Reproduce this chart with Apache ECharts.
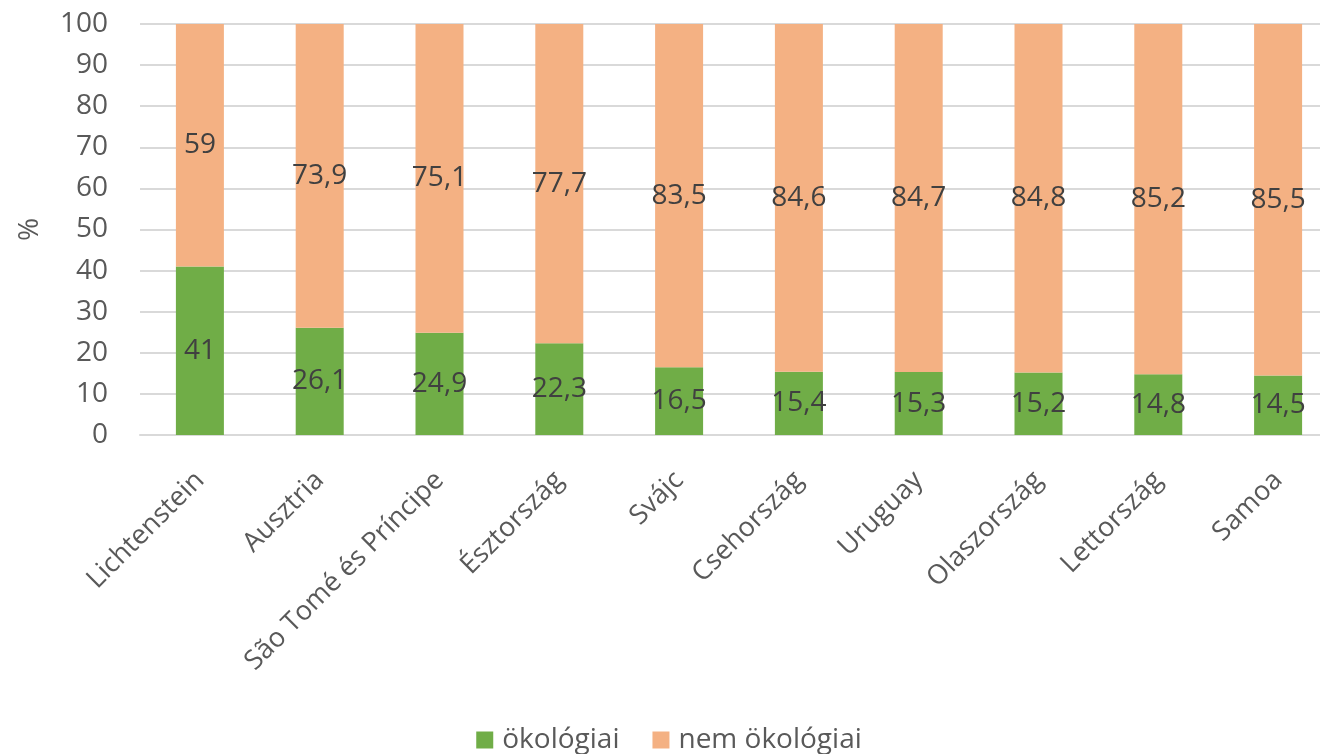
<!DOCTYPE html>
<html>
<head>
<meta charset="utf-8">
<script src="https://cdn.jsdelivr.net/npm/echarts@6/dist/echarts.min.js"></script>
<style>html,body{margin:0;padding:0;background:#fff;overflow:hidden;width:1320px;height:754px;}#c{width:1338px;height:754px;}</style>
</head>
<body>
<div id="c"></div>
<script>
var categories = ['Lichtenstein','Ausztria','São Tomé és Príncipe','Észtország','Svájc','Csehország','Uruguay','Olaszország','Lettország','Samoa'];
var ecological = [41, 26.1, 24.9, 22.3, 16.5, 15.4, 15.3, 15.2, 14.8, 14.5];
var nonEcological = [59, 73.9, 75.1, 77.7, 83.5, 84.6, 84.7, 84.8, 85.2, 85.5];
var seriesNames = ['ökológiai', 'nem ökológiai'];

var FONT = '"Open Sans", "Noto Sans", sans-serif';
function fmt(p){ return String(p.value).replace('.', ','); }

var chart = echarts.init(document.getElementById('c'), null, {renderer:'canvas'});
chart.setOption({
  animation: false,
  textStyle: {fontFamily: FONT},
  grid: {left: 140, top: 24, right: 0, bottom: 319, containLabel: false},
  legend: {
    bottom: -5, left: 'center',
    itemWidth: 17, itemHeight: 17, itemGap: 33,
    icon: 'rect',
    textStyle: {fontSize: 28, color: '#595959', fontFamily: FONT, padding: [0, 0, 0, 4]},
    data: seriesNames
  },
  xAxis: {
    type: 'category',
    data: categories,
    axisLine: {show: true, lineStyle: {color: '#d9d9d9', width: 2}},
    axisTick: {show: false},
    axisLabel: {rotate: 45, interval: 0, margin: 41, fontSize: 27, color: '#595959', fontFamily: FONT}
  },
  yAxis: {
    type: 'value',
    min: 0, max: 100, interval: 10,
    name: '%', nameLocation: 'middle', nameGap: 96, nameRotate: 90,
    nameTextStyle: {fontSize: 28, color: '#595959', fontFamily: FONT},
    axisLine: {show: false},
    axisTick: {show: false},
    axisLabel: {margin: 32, fontSize: 28, color: '#595959', fontFamily: FONT},
    splitLine: {lineStyle: {color: '#d9d9d9', width: 2}}
  },
  series: [
    {
      name: seriesNames[0], type: 'bar', stack: 'a', data: ecological,
      barWidth: 48,
      itemStyle: {color: '#70AD47'},
      label: {show: true, position: 'inside', formatter: fmt, fontSize: 28, color: '#404040', fontFamily: FONT}
    },
    {
      name: seriesNames[1], type: 'bar', stack: 'a', data: nonEcological,
      barWidth: 48,
      itemStyle: {color: '#F4B183'},
      label: {show: true, position: 'inside', formatter: fmt, fontSize: 28, color: '#404040', fontFamily: FONT}
    }
  ]
});
</script>
</body>
</html>
